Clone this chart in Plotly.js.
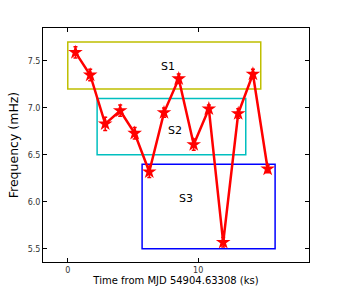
<!DOCTYPE html>
<html>
<head>
<meta charset="utf-8">
<script src="https://cdn.plot.ly/plotly-3.0.1.min.js"></script>
<style>
  html, body { margin: 0; padding: 0; background: #fff; }
  #chart { width: 343px; height: 291px; }
</style>
</head>
<body>
<div id="chart"></div>
<script>
// time (ks) and frequency (mHz)
const timeKs = [0.59, 1.72, 2.87, 4.02, 5.13, 6.25, 7.38, 8.51, 9.66, 10.82, 11.92, 13.07, 14.2, 15.33];
const freqMHz = [7.59, 7.35, 6.83, 6.97, 6.73, 6.32, 6.95, 7.31, 6.61, 6.99, 5.57, 6.94, 7.36, 6.35];
const freqErr = [0.06, 0.06, 0.07, 0.06, 0.06, 0.06, 0.05, 0.05, 0.06, 0.04, 0.05, 0.05, 0.05, 0.04];

// state boxes
const boxNames = ['S1', 'S2', 'S3'];
const boxX0 = [0, 2.25, 5.7];
const boxX1 = [14.8, 13.65, 15.9];
const boxY0 = [7.2, 6.5, 5.5];
const boxY1 = [7.7, 7.1, 6.4];
const boxColors = ['#bfbf00', '#00bfbf', '#0000ff'];
const labelX = [7.7, 8.25, 9.1];
const labelY = [7.44, 6.76, 6.04];

const shapes = boxNames.map((n, i) => ({
    type: 'rect', xref: 'x', yref: 'y',
    x0: boxX0[i], x1: boxX1[i], y0: boxY0[i], y1: boxY1[i],
    line: { color: boxColors[i], width: 1.5 },
    layer: 'below'
}));

const annotations = boxNames.map((n, i) => ({
    x: labelX[i], y: labelY[i], xref: 'x', yref: 'y',
    text: n, showarrow: false,
    font: { family: 'DejaVu Sans', size: 11, color: '#000' }
}));

const trace = {
    x: timeKs,
    y: freqMHz,
    error_y: { type: 'data', array: freqErr, color: '#ff0000', thickness: 1.5, width: 2 },
    mode: 'lines+markers',
    type: 'scatter',
    line: { color: '#ff0000', width: 2.5 },
    marker: { symbol: 'star', size: 11, color: '#ff0000' }
};

const axisCommon = {
    showgrid: false, zeroline: false,
    showline: true, linecolor: '#000', linewidth: 1, mirror: 'ticks',
    ticks: 'inside', ticklen: 4, tickcolor: '#000',
    tickfont: { family: 'DejaVu Sans', size: 8, color: '#333' }
};

const layout = {
    width: 343, height: 291,
    margin: { l: 43, r: 34, t: 28, b: 29 },
    paper_bgcolor: '#fff', plot_bgcolor: '#fff',
    showlegend: false,
    xaxis: Object.assign({}, axisCommon, {
        range: [-1.9, 18.5], tickvals: [0, 10], ticktext: ['0', '10'],
        title: { text: 'Time from MJD 54904.63308 (ks)', standoff: 2,
                 font: { family: 'DejaVu Sans', size: 10, color: '#000' } }
    }),
    yaxis: Object.assign({}, axisCommon, {
        range: [5.36, 7.85], tickvals: [5.5, 6.0, 6.5, 7.0, 7.5],
        ticktext: ['5.5', '6.0', '6.5', '7.0', '7.5'],
        title: { text: 'Frequency (mHz)', standoff: 6,
                 font: { family: 'DejaVu Sans', size: 12.5, color: '#000' } }
    }),
    shapes: shapes,
    annotations: annotations
};

Plotly.newPlot('chart', [trace], layout, { displayModeBar: false, staticPlot: true });
</script>
</body>
</html>
